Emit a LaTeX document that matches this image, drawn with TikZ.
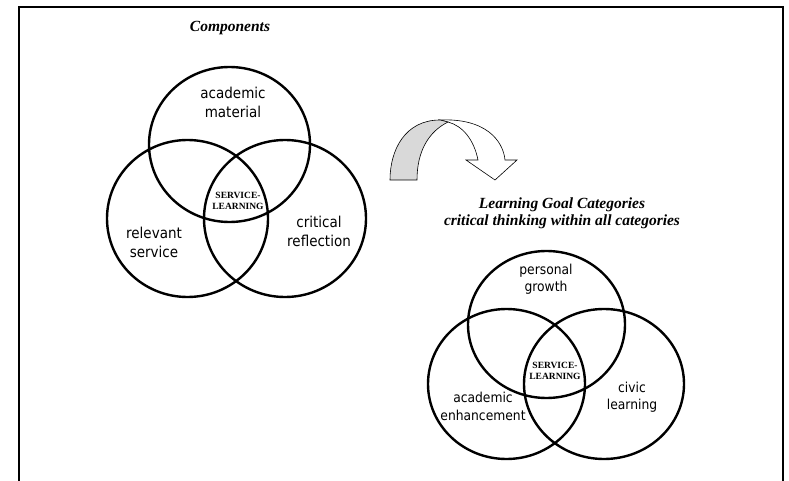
\documentclass[tikz,border=0pt]{standalone}
\usepackage{fontspec}
\setmainfont{Liberation Serif}
\newfontfamily\vennfont{DejaVu Sans Condensed}

\tikzset{
  ring/.style={line width=2.4pt},
  bigtxt/.style={font=\vennfont\fontsize{15}{19}\selectfont, align=center},
  smalltxt/.style={font=\vennfont\fontsize{13.7}{17.5}\selectfont, align=center},
  head/.style={font=\bfseries\itshape\fontsize{15.5}{17}\selectfont, align=center},
  core/.style={font=\bfseries\fontsize{9.5}{10.5}\selectfont, align=center, inner sep=0pt},
}

\begin{document}
\begin{tikzpicture}[x=1pt, y=-1pt]
\useasboundingbox (0,0) rectangle (789,481);
\draw[line width=2pt] (19,481) -- (19,7) -- (783,7) -- (783,481);

% components
\node[head] (comp) at (230,28) {Components};
\draw[ring] (229.5,144.5) ellipse [x radius=80.5pt, y radius=77.5pt];
\draw[ring] (187.5,218.5) ellipse [x radius=80.5pt, y radius=78.5pt];
\draw[ring] (285,218.5) ellipse [x radius=81pt, y radius=78.5pt];
\node[bigtxt] (acad) at (233,102) {academic\\material};
\node[bigtxt] (serv) at (154,242) {relevant\\service};
\node[bigtxt] (refl) at (319,231) {critical\\reflection};
\node[core] (sl1) at (238,201) {SERVICE-\\LEARNING};

% curved arrow
\draw[fill=white, line width=0.6pt] (440,120) .. controls (485,118) and (503,140) .. (505,160)
  -- (517,160) -- (495,180) -- (466,160) -- (478,160)
  .. controls (474,140) and (463,126) .. (448,122) -- cycle;
\draw[fill=gray!30, line width=0.6pt] (390,180) .. controls (390,150) and (405,120) .. (440,120)
  -- (448,122) .. controls (428,132) and (417,152) .. (417,180) -- cycle;

% goal categories
\node[head] (goals) at (562,213.5) {Learning Goal Categories\\critical thinking within all categories};
\draw[ring] (546.5,324.5) ellipse [x radius=78.5pt, y radius=73.5pt];
\draw[ring] (506.5,384) ellipse [x radius=78.5pt, y radius=75pt];
\draw[ring] (604,384) ellipse [x radius=80pt, y radius=75pt];
\node[smalltxt] (pers) at (546,279) {personal\\growth};
\node[smalltxt] (enh) at (483,406.5) {academic\\enhancement};
\node[smalltxt] (civic) at (632,397) {civic\\learning};
\node[core] (sl2) at (555,371) {SERVICE-\\LEARNING};
\end{tikzpicture}
\end{document}
